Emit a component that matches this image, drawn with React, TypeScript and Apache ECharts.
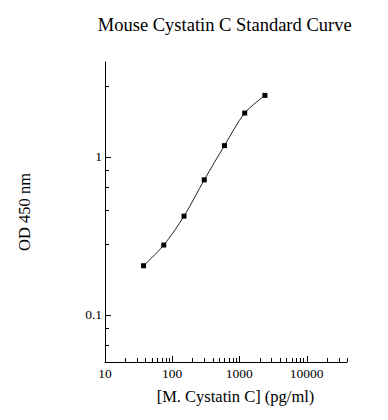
import React, { useEffect, useRef } from "react";
import * as echarts from "echarts";

const concentrations = [37.5, 75, 150, 300, 600, 1200, 2400];
const odValues = [0.204, 0.276, 0.421, 0.715, 1.179, 1.898, 2.456];

const xMajorTicks = [10, 100, 1000, 10000];
const xMinorTicks = [
  20, 30, 40, 50, 60, 70, 80, 90,
  200, 300, 400, 500, 600, 700, 800, 900,
  2000, 3000, 4000, 5000, 6000, 7000, 8000, 9000,
  20000, 30000, 40000,
];
const yMajorTicks = [0.1, 1];
const yMinorTicks = [0.064, 0.082, 0.28, 0.46, 0.64, 0.82, 2.8];

const X_MIN = 10;
const X_MAX = 40000;
const Y_MIN = 0.05;
const Y_MAX = 4;

const FONT = "'Liberation Serif', 'DejaVu Serif', serif";

function isPow10(v: number) {
  const l = Math.log10(v);
  return Math.abs(l - Math.round(l)) < 1e-6;
}

function xTickSeries(values: number[], len: number) {
  return {
    type: "custom",
    silent: true,
    clip: false,
    z: 5,
    data: values.map((v) => [v, Y_MIN]),
    renderItem: (params: any, api: any) => {
      const p = api.coord([api.value(0), api.value(1)]);
      const x = Math.round(p[0]) + 0.5;
      const y = Math.round(p[1]);
      return {
        type: "line",
        shape: { x1: x, y1: y, x2: x, y2: y - len },
        style: { stroke: "#000", lineWidth: 1 },
      };
    },
  };
}

function yTickSeries(values: number[], len: number) {
  return {
    type: "custom",
    silent: true,
    clip: false,
    z: 5,
    data: values.map((v) => [X_MIN, v]),
    renderItem: (params: any, api: any) => {
      const p = api.coord([api.value(0), api.value(1)]);
      const x = Math.round(p[0]);
      const y = Math.round(p[1]) + 0.5;
      return {
        type: "line",
        shape: { x1: x, y1: y, x2: x + len, y2: y },
        style: { stroke: "#000", lineWidth: 1 },
      };
    },
  };
}

export default function App() {
  const ref = useRef<HTMLDivElement>(null);
  useEffect(() => {
    if (!ref.current) return;
    const chart = echarts.init(ref.current, null, { renderer: "svg" });
    chart.setOption({
      animation: false,
      backgroundColor: "#fff",
      textStyle: { fontFamily: FONT, color: "#000" },
      graphic: [
        {
          type: "text",
          x: 224.7,
          y: 24.5,
          style: {
            text: "Mouse Cystatin C Standard Curve",
            fontFamily: FONT,
            fontSize: 18.5,
            fill: "#000",
            textAlign: "center",
            textVerticalAlign: "middle",
          },
        },
      ],
      grid: {
        left: 105,
        right: 41,
        top: 62,
        bottom: 58,
        containLabel: false,
        outerBoundsMode: "none",
      },
      xAxis: {
        type: "log",
        logBase: 10,
        min: X_MIN,
        max: X_MAX,
        name: "[M. Cystatin C] (pg/ml)",
        nameLocation: "middle",
        nameGap: 26,
        nameTextStyle: {
          fontFamily: FONT,
          fontSize: 16.5,
          color: "#000",
          padding: [0, 0, 0, 19],
        },
        axisLine: { show: true, lineStyle: { color: "#000", width: 1 } },
        axisTick: { show: false },
        minorTick: { show: false },
        splitLine: { show: false },
        axisLabel: {
          fontFamily: FONT,
          fontSize: 13.5,
          color: "#000",
          margin: 4,
          formatter: (v: number) => (isPow10(v) ? String(v) : ""),
        },
      },
      yAxis: {
        type: "log",
        logBase: 10,
        min: Y_MIN,
        max: Y_MAX,
        name: "OD 450 nm",
        nameLocation: "middle",
        nameGap: 72,
        nameTextStyle: { fontFamily: FONT, fontSize: 16.5, color: "#000" },
        axisLine: { show: true, lineStyle: { color: "#000", width: 1 } },
        axisTick: { show: false },
        minorTick: { show: false },
        splitLine: { show: false },
        axisLabel: {
          fontFamily: FONT,
          fontSize: 13.5,
          color: "#000",
          margin: 3,
          formatter: (v: number) => (isPow10(v) ? String(v) : ""),
        },
      },
      series: [
        {
          type: "line",
          data: concentrations.map((c, i) => [c, odValues[i]]),
          smooth: 0.3,
          symbol: "rect",
          symbolSize: 5,
          lineStyle: { color: "#222", width: 1 },
          itemStyle: { color: "#000" },
          z: 3,
        },
        xTickSeries(xMajorTicks, 6),
        xTickSeries(xMinorTicks, 4),
        yTickSeries(yMajorTicks, 6),
        yTickSeries(yMinorTicks, 4),
      ],
    });
    return () => chart.dispose();
  }, []);
  return (
    <div
      ref={ref}
      style={{ position: "fixed", left: 0, top: 0, width: 388, height: 420 }}
    />
  );
}
